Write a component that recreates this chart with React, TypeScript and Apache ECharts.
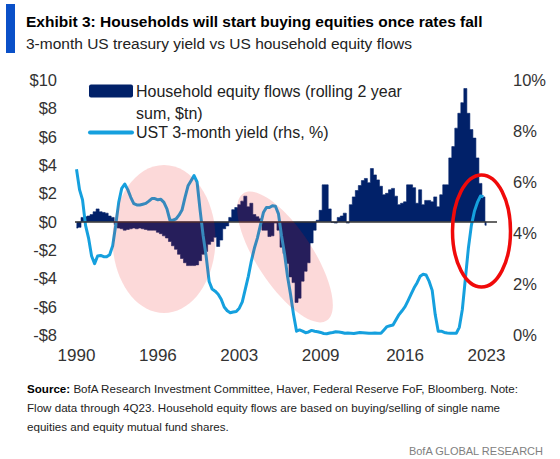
import React, { useEffect, useRef } from 'react';
import * as echarts from 'echarts';

// Quarterly categories (140 slots; data occupies the first 137)
const quarters: string[] = [];
for (let y = 1990; y < 2025; y++) {
  for (let q = 1; q <= 4; q++) quarters.push(`${y}Q${q}`);
}

const xTickIndex = [0, 27, 54, 81, 109, 136];
const xTickLabels = ['1990', '1996', '2003', '2009', '2016', '2023'];

// Household equity flows (rolling 2 year sum, $tn)
const flows = [
  -0.45, -0.4, 0.3, 0.35, 0.4, 0.5, 0.7, 0.9, 0.7, 0.65,
  0.6, 0.4, 0.3, -0.2, -0.45, -0.5, -0.6, -0.55, -0.5, -0.45,
  -0.5, -0.45, -0.5, -0.55, -0.6, -0.6, -0.6, -0.75, -0.85, -1.0,
  -1.15, -1.4, -1.7, -1.95, -2.3, -2.6, -2.9, -3.1, -3.1, -3.1,
  -3.05, -2.75, -2.3, -2.1, -1.6, -1.4, -1.1, -1.75, -1.3, -0.5,
  -0.3, 0.3, 0.85, 1.0, 1.2, 1.45, 1.8, 1.05, 1.3, 0.5,
  0.35, 0.2, -0.6, -0.6, -1.05, -1.0, -0.1, -0.6, -1.8, -2.25,
  -2.95, -3.9, -4.3, -5.7, -5.4, -4.2, -3.5, -2.9, -1.5, -0.6,
  0.1, 0.8, 2.6, 2.6, 0.9, -0.05, -0.1, 0.3, 0.4, 0.6,
  -0.1, 1.2, 1.75, 2.2, 2.55, 2.9, 3.05, 2.75, 3.75, 3.3,
  2.95, 2.5, 1.9, 2.0, 2.25, 2.35, 1.8, 1.2, 1.3, 1.4,
  2.6, 2.6, 2.4, 1.3, 2.25, 1.2, 1.5, 1.5, 1.4, 1.75,
  1.05, 1.9, 2.6, 2.6, 4.5, 5.3, 6.6, 7.65, 8.4, 9.4,
  7.65, 6.5, 5.9, 4.5, 2.7, 1.75, -0.25,
];

// UST 3-month yield (%)
const rates = [
  6.5, 5.7, 5.3, 4.3, 3.8, 3.1, 2.8, 3.1, 3.12, 3.07,
  3.07, 3.15, 3.5, 4.3, 5.2, 5.75, 5.92, 5.7, 5.4, 5.15,
  5.1, 5.1, 5.13, 5.16, 5.25, 5.35, 5.35, 5.3, 5.32, 5.2,
  4.95, 4.5, 4.5, 4.55, 4.7, 4.9, 5.4, 5.85, 6.05, 6.25,
  6.0, 4.9, 3.9, 3.1, 2.1, 1.8, 1.72, 1.6, 1.4, 1.1,
  0.95, 0.87, 0.9, 0.92, 1.05, 1.3, 1.8, 2.3, 2.9, 3.4,
  3.8, 4.3, 4.8, 5.0, 5.0, 5.07, 5.05, 4.75, 3.9, 3.2,
  2.3, 1.6, 0.8, 0.15, 0.2, 0.15, 0.09, 0.12, 0.18, 0.15,
  0.13, 0.1, 0.06, 0.05, 0.08, 0.1, 0.13, 0.12, 0.1, 0.07,
  0.08, 0.07, 0.06, 0.08, 0.1, 0.09, 0.08, 0.07, 0.07, 0.08,
  0.07, 0.07, 0.2, 0.33, 0.36, 0.39, 0.6, 0.8, 0.95, 1.11,
  1.35, 1.6, 1.85, 2.05, 2.3, 2.38, 2.35, 2.1, 1.75, 0.8,
  0.15, 0.15, 0.1, 0.08, 0.07, 0.07, 0.07, 0.3, 1.0, 2.2,
  3.4, 4.3, 4.85, 5.2, 5.45, 5.42,
];

const NAVY = '#012169';
const LIGHT = '#15A0DE';
const FONT = '"Liberation Sans", Arial, sans-serif';
const PINK = 'rgba(238, 20, 20, 0.16)';

export default function App() {
  const ref = useRef<HTMLDivElement>(null);

  useEffect(() => {
    document.body.style.margin = '0';
    if (!ref.current) return;
    const chart = echarts.init(ref.current, null, { renderer: 'svg' });

    const option: any = {
      animation: false,
      backgroundColor: '#ffffff',
      title: {
        text: 'Exhibit 3: Households will start buying equities once rates fall',
        subtext: '3-month US treasury yield vs US household equity flows',
        left: 26,
        top: 11,
        padding: 0,
        itemGap: 2,
        textStyle: { fontFamily: FONT, fontSize: 15.5, fontWeight: 'bold', color: '#000', lineHeight: 20 },
        subtextStyle: { fontFamily: FONT, fontSize: 15.5, color: '#222', lineHeight: 20 },
      },
      grid: { left: 75, right: 63, top: 80, bottom: 124, containLabel: false },
      xAxis: {
        type: 'category',
        data: quarters,
        boundaryGap: true,
        axisLine: { show: false },
        axisTick: { show: false },
        splitLine: { show: false },
        axisLabel: {
          interval: (index: number) => xTickIndex.indexOf(index) >= 0,
          formatter: (_v: string, index: number) => {
            const k = xTickIndex.indexOf(index);
            return k >= 0 ? xTickLabels[k] : '';
          },
          margin: 12,
          fontFamily: FONT,
          fontSize: 17,
          color: '#333',
        },
      },
      yAxis: [
        {
          type: 'value',
          position: 'left',
          min: -8,
          max: 10,
          interval: 2,
          axisLine: { show: false },
          axisTick: { show: false },
          splitLine: { show: false },
          axisLabel: {
            formatter: (v: number) => (v < 0 ? '-$' + Math.abs(v) : '$' + v),
            margin: 18,
            fontFamily: FONT,
            fontSize: 16.5,
            color: '#333',
          },
        },
        {
          type: 'value',
          position: 'right',
          min: 0,
          max: 10,
          interval: 2,
          axisLine: { show: false },
          axisTick: { show: false },
          splitLine: { show: false },
          axisLabel: {
            formatter: (v: number) => v + '%',
            margin: 16,
            fontFamily: FONT,
            fontSize: 16.5,
            color: '#333',
          },
        },
      ],
      series: [
        {
          name: 'Household equity flows (rolling 2 year sum, $tn)',
          type: 'line',
          step: 'middle',
          yAxisIndex: 0,
          data: flows,
          symbol: 'none',
          showSymbol: false,
          silent: true,
          lineStyle: { width: 0.6, color: NAVY },
          areaStyle: { color: NAVY, opacity: 1, origin: 'auto' },
          z: 2,
          markLine: {
            silent: true,
            symbol: ['none', 'none'],
            label: { show: false },
            lineStyle: { color: '#333', width: 1.5, type: 'solid' },
            data: [{ yAxis: 0 }],
          },
        },
        {
          name: 'UST 3-month yield (rhs, %)',
          type: 'line',
          yAxisIndex: 1,
          data: rates,
          symbol: 'none',
          showSymbol: false,
          silent: true,
          lineStyle: { color: LIGHT, width: 3, join: 'round' },
          z: 3,
        },
      ],
      graphic: [
        { type: 'rect', shape: { x: 6, y: 4, width: 9, height: 49 }, style: { fill: '#0A50C8' } },
        // legend
        { type: 'rect', shape: { x: 89, y: 84.5, width: 44, height: 13, r: 2 }, style: { fill: NAVY } },
        {
          type: 'text', x: 136, y: 91,
          style: { text: 'Household equity flows (rolling 2 year', fontFamily: FONT, fontSize: 16, fill: '#222', verticalAlign: 'middle' },
        },
        {
          type: 'text', x: 136, y: 113,
          style: { text: 'sum, $tn)', fontFamily: FONT, fontSize: 16, fill: '#222', verticalAlign: 'middle' },
        },
        {
          type: 'line', shape: { x1: 90, y1: 132.5, x2: 132, y2: 132.5 },
          style: { stroke: LIGHT, lineWidth: 4, lineCap: 'round' },
        },
        {
          type: 'text', x: 136, y: 132.5,
          style: { text: 'UST 3-month yield (rhs, %)', fontFamily: FONT, fontSize: 16, fill: '#222', verticalAlign: 'middle' },
        },
        // highlight ellipses
        { type: 'ellipse', z: 10, shape: { cx: 164, cy: 239, rx: 51.5, ry: 74 }, style: { fill: PINK } },
        {
          type: 'ellipse', z: 10, x: 285, y: 257, rotation: -56.7 * Math.PI / 180,
          shape: { cx: 0, cy: 0, rx: 76, ry: 28 }, style: { fill: PINK },
        },
        {
          type: 'ellipse', z: 11, shape: { cx: 481.5, cy: 231, rx: 29, ry: 56 },
          style: { fill: 'none', stroke: '#F00A0A', lineWidth: 3.5 },
        },
        // footer
        {
          type: 'text', x: 27, y: 388,
          style: {
            text: '{b|Source:} BofA Research Investment Committee, Haver, Federal Reserve FoF, Bloomberg. Note:',
            fontFamily: FONT, fontSize: 11.6, fill: '#222', verticalAlign: 'middle',
            rich: { b: { fontFamily: FONT, fontSize: 11.6, fontWeight: 'bold', fill: '#000' } },
          },
        },
        {
          type: 'text', x: 27, y: 407,
          style: {
            text: 'Flow data through 4Q23. Household equity flows are based on buying/selling of single name',
            fontFamily: FONT, fontSize: 11.6, fill: '#222', verticalAlign: 'middle',
          },
        },
        {
          type: 'text', x: 27, y: 426,
          style: {
            text: 'equities and equity mutual fund shares.',
            fontFamily: FONT, fontSize: 11.6, fill: '#222', verticalAlign: 'middle',
          },
        },
        {
          type: 'text', x: 543, y: 451,
          style: {
            text: 'BofA GLOBAL RESEARCH',
            fontFamily: FONT, fontSize: 11, fill: '#808080', verticalAlign: 'middle', align: 'right',
          },
        },
      ],
    };

    chart.setOption(option);
    return () => chart.dispose();
  }, []);

  return <div ref={ref} style={{ width: 560, height: 459 }} />;
}
